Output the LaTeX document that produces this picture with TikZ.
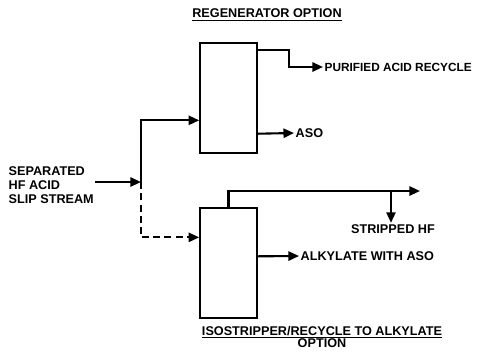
\documentclass[tikz,border=0pt]{standalone}
\usepackage{fontspec}
\setmainfont{Liberation Sans}
\usetikzlibrary{positioning,arrows.meta,calc}

\begin{document}
\begin{tikzpicture}[
    x=0.025cm, y=-0.025cm,
    every node/.style={font=\fontsize{9}{10}\selectfont\bfseries, inner sep=1pt},
    unit/.style={draw, line width=1.1pt, minimum width=1.425cm, minimum height=2.75cm},
    flow/.style={line width=1.5pt, -{Triangle[length=7.5pt,width=6.5pt]}},
    dflow/.style={flow, dash pattern=on 5pt off 3pt},
    label/.style={anchor=west, align=left}
]
\useasboundingbox (0,0) rectangle (482,351);

% vessels
\node[unit] (regen) at (228.5,98) {};
\node[unit] (strip) at (228.5,263) {};

% captions
\node (regtitle) at (267,15) {\underline{REGENERATOR OPTION}};
\node[align=center] (striptitle) at (322,337) {\underline{ISOSTRIPPER/RECYCLE TO ALKYLATE}\\[-1.5pt]OPTION};

% feed
\node[label, align=left] (feed) at (7,185) {SEPARATED\\HF ACID\\SLIP STREAM};
\coordinate (split) at (141,182);
\draw[flow] (feed.east |- split) -- (split);
\draw[flow] (split) |- ($(regen.north west)!0.7!(regen.south west)$);
\draw[dflow] (split) |- ($(strip.north west)!0.27!(strip.south west)$);

% regenerator products
\node[label, font=\fontsize{8.4}{10}\selectfont\bfseries] (purified) at (323,67) {PURIFIED ACID RECYCLE};
\node[label] (aso) at (294,133) {ASO};
\draw[flow] ($(regen.north east)!0.073!(regen.south east)$) -- ++(31,0) |- (purified.west);
\draw[flow] ($(regen.north east)!0.82!(regen.south east)$) -- (aso.west);

% isostripper products
\node (stripped) at (393,229) {STRIPPED HF};
\node[label] (alky) at (299,256) {ALKYLATE WITH ASO};
\coordinate (hfout) at (420,191);
\coordinate (tee) at (391,191);
\draw[flow] (strip.north) |- (hfout);
\draw[flow] (tee) -- (tee |- stripped.north);
\draw[flow] ($(strip.north east)!0.44!(strip.south east)$) -- (alky.west);
\end{tikzpicture}
\end{document}
